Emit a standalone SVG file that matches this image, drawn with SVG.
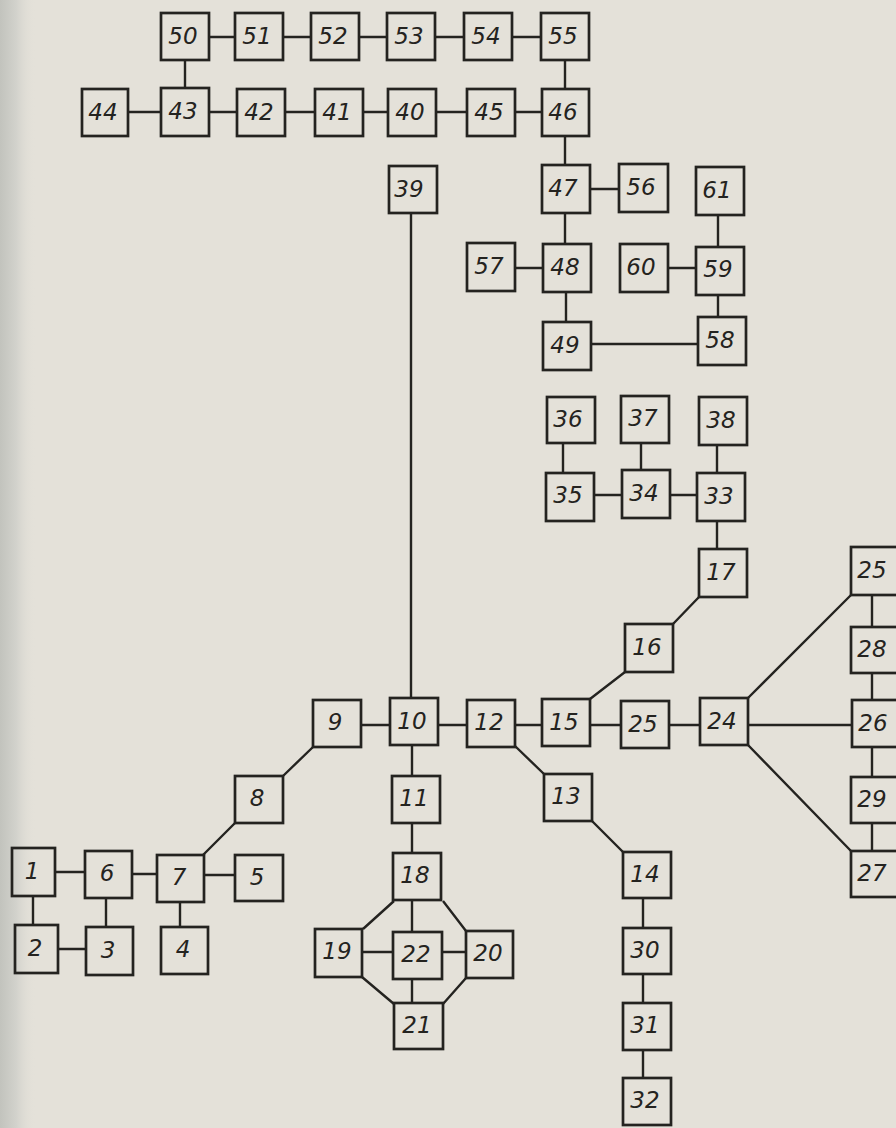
<svg xmlns="http://www.w3.org/2000/svg" width="896" height="1128" viewBox="0 0 896 1128">
<defs>
<linearGradient id="gut" x1="0" y1="0" x2="1" y2="0">
<stop offset="0" stop-color="#c2c3bd"/>
<stop offset="0.45" stop-color="#d2d2cc"/>
<stop offset="1" stop-color="#e4e1d9" stop-opacity="0"/>
</linearGradient>
<style>
.b{fill:none;stroke:#242320;stroke-width:2.7}
.c{fill:none;stroke:#242320;stroke-width:2.4}
.t{font-family:"DejaVu Sans","Liberation Sans",sans-serif;font-size:23px;font-style:italic;fill:#242320;text-anchor:middle;dominant-baseline:central;transform:translate(-2px,-1px)}
</style>
</defs>
<rect x="0" y="0" width="896" height="1128" fill="#e4e1d9"/>
<rect x="0" y="0" width="36" height="1128" fill="url(#gut)"/>
<g id="connectors" class="c">
<path d="M209 37H235M283 37H311M359 37H387M435 37H464M512 37H541"/>
<path d="M185 60V88M565 60V88"/>
<path d="M128 112H161M209 112H237M285 112H315M363 112H388M436 112H467M515 112H542"/>
<path d="M565 136V165M590 189H619M565 213V244M515 268H543M566 292V322M591 344H698M668 268H696M718 215V247M718 295V317"/>
<path d="M411 213V698"/>
<path d="M563 443V473M641 443V470M717 445V473M594 495H622M670 495H697M717 521V549"/>
<path d="M699 597L673 624M590 699L625 672"/>
<path d="M361 725H390M438 725H467M515 725H542M590 725H621M669 725H700M748 725H852"/>
<path d="M515 746L544 774M592 821L623 852M748 698L851 595M748 745L851 851"/>
<path d="M872 595V627M872 673V700M872 747V777M872 823V851"/>
<path d="M313 747L283 776M235 823L203 855"/>
<path d="M412 745V776M412 823V853M412 900V932M412 979V1003"/>
<path d="M55 872H85M132 874H157M204 875H235M33 896V925M106 898V927M58 949H86M180 902V927"/>
<path d="M362 952H393M442 952H466"/>
<path d="M394 901L363 929M443 901L466 931M362 977L394 1004M466 978L443 1004"/>
<path d="M643 898V928M643 974V1003M643 1050V1078"/>
</g>
<g id="n50"><rect class="b" x="161" y="13" width="48" height="47"/><text class="t" x="185" y="37">50</text></g>
<g id="n51"><rect class="b" x="235" y="13" width="48" height="47"/><text class="t" x="259" y="37">51</text></g>
<g id="n52"><rect class="b" x="311" y="13" width="48" height="47"/><text class="t" x="335" y="37">52</text></g>
<g id="n53"><rect class="b" x="387" y="13" width="48" height="47"/><text class="t" x="411" y="37">53</text></g>
<g id="n54"><rect class="b" x="464" y="13" width="48" height="47"/><text class="t" x="488" y="37">54</text></g>
<g id="n55"><rect class="b" x="541" y="13" width="48" height="47"/><text class="t" x="565" y="37">55</text></g>
<g id="n44"><rect class="b" x="82" y="89" width="46" height="47"/><text class="t" x="105" y="113">44</text></g>
<g id="n43"><rect class="b" x="161" y="88" width="48" height="48"/><text class="t" x="185" y="112">43</text></g>
<g id="n42"><rect class="b" x="237" y="89" width="48" height="47"/><text class="t" x="261" y="113">42</text></g>
<g id="n41"><rect class="b" x="315" y="89" width="48" height="47"/><text class="t" x="339" y="113">41</text></g>
<g id="n40"><rect class="b" x="388" y="89" width="48" height="47"/><text class="t" x="412" y="113">40</text></g>
<g id="n45"><rect class="b" x="467" y="89" width="48" height="47"/><text class="t" x="491" y="113">45</text></g>
<g id="n46"><rect class="b" x="542" y="89" width="47" height="47"/><text class="t" x="565" y="113">46</text></g>
<g id="n39"><rect class="b" x="389" y="166" width="48" height="47"/><text class="t" x="411" y="190">39</text></g>
<g id="n47"><rect class="b" x="542" y="165" width="48" height="48"/><text class="t" x="565" y="189">47</text></g>
<g id="n56"><rect class="b" x="619" y="164" width="49" height="48"/><text class="t" x="643" y="188">56</text></g>
<g id="n61"><rect class="b" x="696" y="167" width="48" height="48"/><text class="t" x="719" y="191">61</text></g>
<g id="n57"><rect class="b" x="467" y="243" width="48" height="48"/><text class="t" x="491" y="267">57</text></g>
<g id="n48"><rect class="b" x="543" y="244" width="48" height="48"/><text class="t" x="567" y="268">48</text></g>
<g id="n60"><rect class="b" x="620" y="244" width="48" height="48"/><text class="t" x="643" y="268">60</text></g>
<g id="n59"><rect class="b" x="696" y="247" width="48" height="48"/><text class="t" x="720" y="270">59</text></g>
<g id="n49"><rect class="b" x="543" y="322" width="48" height="48"/><text class="t" x="567" y="346">49</text></g>
<g id="n58"><rect class="b" x="698" y="317" width="48" height="48"/><text class="t" x="722" y="341">58</text></g>
<g id="n36"><rect class="b" x="547" y="397" width="48" height="46"/><text class="t" x="570" y="420">36</text></g>
<g id="n37"><rect class="b" x="621" y="396" width="48" height="47"/><text class="t" x="645" y="419">37</text></g>
<g id="n38"><rect class="b" x="699" y="397" width="48" height="48"/><text class="t" x="723" y="421">38</text></g>
<g id="n35"><rect class="b" x="546" y="473" width="48" height="48"/><text class="t" x="570" y="496">35</text></g>
<g id="n34"><rect class="b" x="622" y="470" width="48" height="48"/><text class="t" x="646" y="494">34</text></g>
<g id="n33"><rect class="b" x="697" y="473" width="48" height="48"/><text class="t" x="721" y="497">33</text></g>
<g id="n17"><rect class="b" x="699" y="549" width="48" height="48"/><text class="t" x="723" y="573">17</text></g>
<g id="n25a"><rect class="b" x="851" y="547" width="48" height="48"/><text class="t" x="874" y="571">25</text></g>
<g id="n16"><rect class="b" x="625" y="624" width="48" height="48"/><text class="t" x="649" y="648">16</text></g>
<g id="n28"><rect class="b" x="851" y="627" width="48" height="46"/><text class="t" x="874" y="650">28</text></g>
<g id="n9"><rect class="b" x="313" y="700" width="48" height="47"/><text class="t" x="337" y="723">9</text></g>
<g id="n10"><rect class="b" x="390" y="698" width="48" height="47"/><text class="t" x="414" y="722">10</text></g>
<g id="n12"><rect class="b" x="467" y="700" width="48" height="47"/><text class="t" x="491" y="723">12</text></g>
<g id="n15"><rect class="b" x="542" y="699" width="48" height="47"/><text class="t" x="566" y="723">15</text></g>
<g id="n25b"><rect class="b" x="621" y="701" width="48" height="47"/><text class="t" x="645" y="725">25</text></g>
<g id="n24"><rect class="b" x="700" y="698" width="48" height="47"/><text class="t" x="724" y="722">24</text></g>
<g id="n26"><rect class="b" x="852" y="700" width="48" height="47"/><text class="t" x="875" y="724">26</text></g>
<g id="n8"><rect class="b" x="235" y="776" width="48" height="47"/><text class="t" x="259" y="799">8</text></g>
<g id="n11"><rect class="b" x="392" y="776" width="48" height="47"/><text class="t" x="416" y="799">11</text></g>
<g id="n13"><rect class="b" x="544" y="774" width="48" height="47"/><text class="t" x="568" y="797">13</text></g>
<g id="n29"><rect class="b" x="851" y="777" width="48" height="46"/><text class="t" x="874" y="800">29</text></g>
<g id="n1"><rect class="b" x="12" y="848" width="43" height="48"/><text class="t" x="34" y="872">1</text></g>
<g id="n6"><rect class="b" x="85" y="851" width="47" height="47"/><text class="t" x="109" y="874">6</text></g>
<g id="n7"><rect class="b" x="157" y="855" width="47" height="47"/><text class="t" x="181" y="878">7</text></g>
<g id="n5"><rect class="b" x="235" y="855" width="48" height="46"/><text class="t" x="259" y="878">5</text></g>
<g id="n18"><rect class="b" x="393" y="853" width="48" height="47"/><text class="t" x="417" y="876">18</text></g>
<g id="n14"><rect class="b" x="623" y="852" width="48" height="46"/><text class="t" x="647" y="875">14</text></g>
<g id="n27"><rect class="b" x="851" y="851" width="48" height="46"/><text class="t" x="874" y="874">27</text></g>
<g id="n2"><rect class="b" x="15" y="925" width="43" height="48"/><text class="t" x="37" y="949">2</text></g>
<g id="n3"><rect class="b" x="86" y="927" width="47" height="48"/><text class="t" x="110" y="951">3</text></g>
<g id="n4"><rect class="b" x="161" y="927" width="47" height="47"/><text class="t" x="185" y="950">4</text></g>
<g id="n19"><rect class="b" x="315" y="929" width="47" height="48"/><text class="t" x="339" y="952">19</text></g>
<g id="n22"><rect class="b" x="393" y="932" width="49" height="47"/><text class="t" x="418" y="955">22</text></g>
<g id="n20"><rect class="b" x="466" y="931" width="47" height="47"/><text class="t" x="490" y="954">20</text></g>
<g id="n30"><rect class="b" x="623" y="928" width="48" height="46"/><text class="t" x="647" y="951">30</text></g>
<g id="n21"><rect class="b" x="394" y="1003" width="49" height="46"/><text class="t" x="419" y="1026">21</text></g>
<g id="n31"><rect class="b" x="623" y="1003" width="48" height="47"/><text class="t" x="647" y="1026">31</text></g>
<g id="n32"><rect class="b" x="623" y="1078" width="48" height="47"/><text class="t" x="647" y="1101">32</text></g>
</svg>
